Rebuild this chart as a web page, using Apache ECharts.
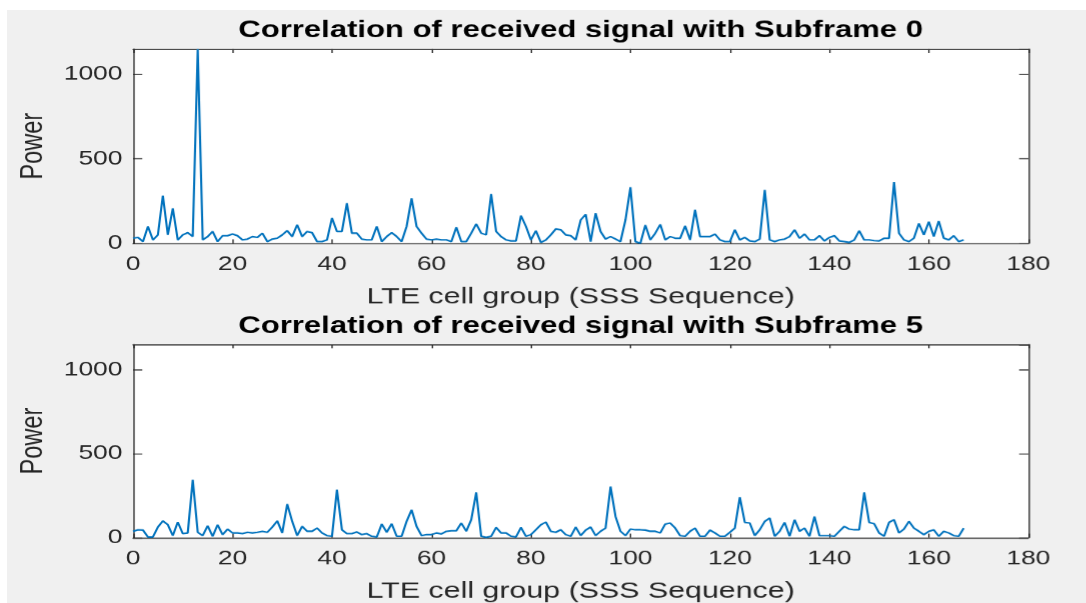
<!DOCTYPE html>
<html>
<head>
<meta charset="utf-8">
<script src="https://cdn.jsdelivr.net/npm/echarts@6/dist/echarts.min.js"></script>
<style>
  html, body { margin: 0; padding: 0; background: #ffffff; width: 1086px; height: 603px; overflow: hidden; }
  #figure { position: absolute; left: 7px; top: 10px; width: 1079px; height: 593px; background: #f0f0f0; }
  #chart { position: absolute; left: 0; top: 0; height: 603px; transform-origin: 0 0; }
</style>
</head>
<body>
<div id="figure"></div>
<div id="chart"></div>
<script>
// Correlation power of the received signal against each of the 168 SSS sequences
const subframe0 = [
  30, 35, 10, 100, 20, 50, 283, 50, 207, 20,
  50, 63, 40, 1150, 20, 40, 70, 10, 45, 45,
  55, 45, 20, 25, 40, 35, 60, 10, 25, 30,
  50, 75, 40, 110, 40, 70, 63, 10, 10, 20,
  150, 70, 70, 237, 60, 60, 25, 20, 20, 100,
  10, 40, 63, 40, 10, 100, 267, 100, 60, 25,
  20, 25, 20, 20, 10, 95, 10, 10, 60, 115,
  60, 50, 292, 70, 40, 20, 14, 14, 164, 100,
  20, 75, 5, 20, 50, 85, 80, 50, 45, 20,
  138, 172, 10, 178, 70, 25, 40, 25, 10, 138,
  332, 10, 0, 108, 20, 60, 112, 20, 40, 30,
  30, 103, 20, 198, 40, 40, 40, 55, 20, 10,
  10, 80, 20, 35, 14, 10, 25, 316, 20, 10,
  20, 25, 40, 80, 30, 55, 20, 20, 45, 14,
  35, 45, 14, 10, 5, 20, 75, 20, 20, 16,
  14, 30, 30, 362, 60, 20, 10, 30, 118, 50,
  128, 40, 132, 30, 20, 45, 10, 20
];

const subframe5 = [
  38, 47, 45, 4, 4, 63, 100, 77, 12, 93,
  24, 28, 344, 32, 12, 71, 8, 77, 18, 51,
  28, 28, 24, 32, 28, 32, 38, 32, 63, 100,
  28, 200, 97, 12, 67, 38, 38, 57, 28, 12,
  8, 285, 47, 24, 24, 34, 18, 24, 8, 4,
  81, 32, 83, 8, 8, 97, 166, 67, 12, 18,
  18, 28, 22, 38, 41, 41, 87, 38, 107, 269,
  8, 2, 8, 61, 28, 28, 8, 4, 61, 8,
  18, 47, 77, 93, 38, 32, 47, 18, 8, 63,
  12, 45, 63, 12, 38, 57, 304, 126, 38, 12,
  51, 47, 47, 45, 38, 38, 28, 81, 87, 57,
  12, 8, 38, 57, 8, 8, 45, 28, 8, 8,
  32, 57, 241, 91, 87, 12, 47, 97, 117, 8,
  38, 91, 8, 107, 38, 57, 8, 126, 12, 12,
  12, 8, 38, 67, 51, 47, 47, 269, 91, 83,
  28, 8, 91, 107, 28, 51, 97, 57, 38, 18,
  38, 47, 8, 38, 28, 12, 8, 57
];

const titles = [
  'Correlation of received signal with Subframe 0',
  'Correlation of received signal with Subframe 5'
];
const xLabel = 'LTE cell group (SSS Sequence)';
const yLabel = 'Power';
const xTicks = { min: 0, max: 180, step: 20 };
const yTicks = { min: 0, max: 1150, step: 500 };

// The figure is drawn narrow and widened with a CSS scaleX, like a stretched figure window
const STRETCH = 1.32;
const PAGE_W = 1086;
const chartDom = document.getElementById('chart');
chartDom.style.width = (PAGE_W / STRETCH) + 'px';
chartDom.style.transform = 'scaleX(' + STRETCH + ')';

const FONT = 'Liberation Sans, Arial, Helvetica, sans-serif';
const INK = '#262626';
const LINE_BLUE = '#0072BD';

const gridLeft = 133 / STRETCH;
const gridWidth = (1028 - 133) / STRETCH;
const gridTops = [49, 344];
const gridHeight = 194;

function xAxes(gi) {
  const base = {
    type: 'value', gridIndex: gi,
    min: xTicks.min, max: xTicks.max, interval: xTicks.step,
    splitLine: { show: false },
    axisLine: { show: true, onZero: false, lineStyle: { color: INK, width: 1 } },
    axisTick: { show: true, inside: true, length: 4, lineStyle: { color: INK, width: 1 } }
  };
  return [
    Object.assign({}, base, {
      position: 'bottom',
      axisLabel: { color: INK, fontSize: 20, fontFamily: FONT, margin: 11 },
      name: xLabel, nameLocation: 'middle', nameGap: 42,
      nameTextStyle: { color: INK, fontSize: 23, fontFamily: FONT }
    }),
    Object.assign({}, base, { position: 'top', axisLabel: { show: false } })
  ];
}

function yAxes(gi) {
  const base = {
    type: 'value', gridIndex: gi,
    min: yTicks.min, max: yTicks.max, interval: yTicks.step,
    splitLine: { show: false },
    axisLine: { show: true, onZero: false, lineStyle: { color: INK, width: 1 } },
    axisTick: { show: true, inside: true, length: 7, lineStyle: { color: INK, width: 1 } }
  };
  return [
    Object.assign({}, base, {
      position: 'left',
      axisLabel: {
        color: INK, fontSize: 20, fontFamily: FONT, margin: 8, showMaxLabel: false,
        formatter: v => String(v)
      },
      name: yLabel, nameLocation: 'middle', nameGap: 55,
      nameTextStyle: { color: INK, fontSize: 23.5, fontFamily: FONT }
    }),
    Object.assign({}, base, { position: 'right', axisLabel: { show: false } })
  ];
}

function powerSeries(values, gi) {
  return {
    type: 'line',
    xAxisIndex: gi * 2, yAxisIndex: gi * 2,
    data: values.map((v, i) => [i, v]),
    showSymbol: false,
    symbol: 'none',
    lineStyle: { color: LINE_BLUE, width: 1.6 },
    silent: true,
    animation: false
  };
}

const chart = echarts.init(chartDom, null, { renderer: 'canvas', devicePixelRatio: STRETCH });

chart.setOption({
  animation: false,
  backgroundColor: 'transparent',
  grid: gridTops.map(t => ({
    left: gridLeft, top: t, width: gridWidth, height: gridHeight,
    show: true, backgroundColor: '#ffffff', borderWidth: 0, containLabel: false
  })),
  xAxis: xAxes(0).concat(xAxes(1)),
  yAxis: yAxes(0).concat(yAxes(1)),
  graphic: titles.map((t, i) => ({
    type: 'text',
    x: gridLeft + gridWidth / 2,
    y: gridTops[i] - 18,
    style: {
      text: t, align: 'center', verticalAlign: 'middle',
      font: 'bold 23.5px ' + FONT, fill: '#000000'
    },
    silent: true
  })),
  series: [powerSeries(subframe0, 0), powerSeries(subframe5, 1)]
});
</script>
</body>
</html>
